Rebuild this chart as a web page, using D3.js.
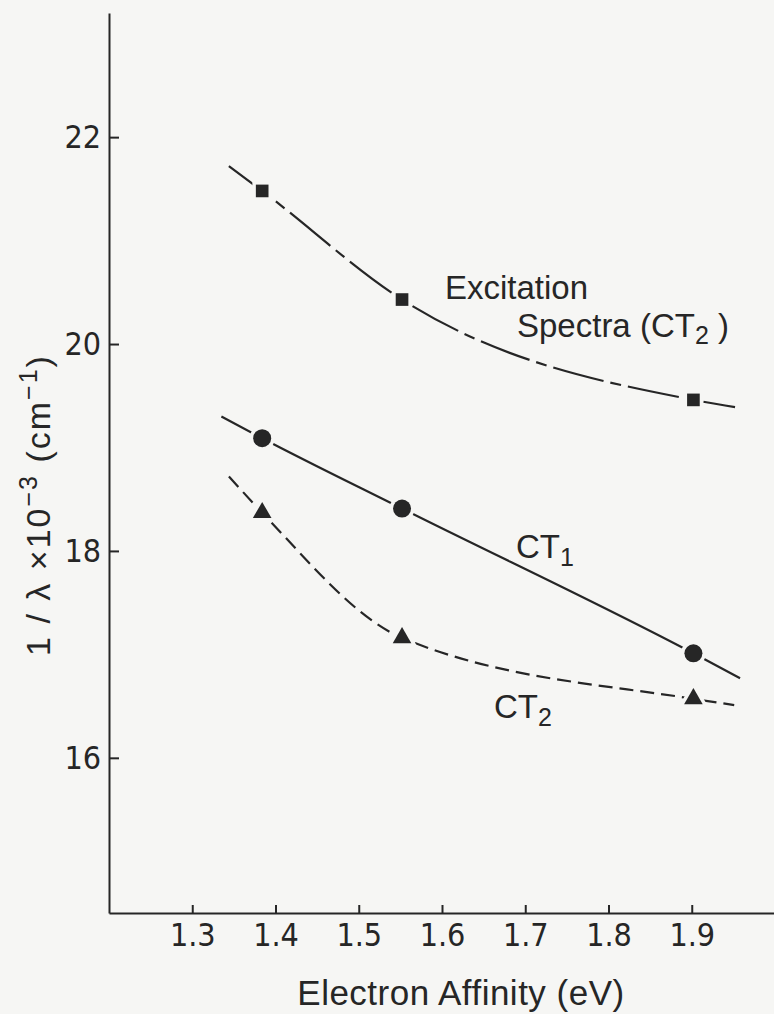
<!DOCTYPE html>
<html>
<head>
<meta charset="utf-8">
<script src="https://cdn.jsdelivr.net/npm/d3@7"></script>
<style>
  html, body { margin: 0; padding: 0; background: #f6f6f4; }
  svg text { fill: #262626; font-family: "Liberation Sans", "DejaVu Sans", sans-serif; }
  .tick text { font-family: "Liberation Sans Narrow", "DejaVu Sans Condensed", "Liberation Sans", sans-serif; }
</style>
</head>
<body>
<script>
// electron affinity of the acceptors (eV)
const affinity = [1.384, 1.552, 1.902];
// 1/lambda x 10^-3 (cm^-1)
const excitation = [21.48, 20.43, 19.46];
const ct1 = [19.09, 18.41, 17.01];
const ct2 = [18.37, 17.16, 16.57];
// where the drawn fit curves start and stop
const excitationEnds = [[1.344, 21.72], [1.952, 19.39]];
const ct1Ends = [[1.335, 19.30], [1.958, 16.77]];
const ct2Ends = [[1.344, 18.72], [1.951, 16.51]];

const xTicks = [1.3, 1.4, 1.5, 1.6, 1.7, 1.8, 1.9];
const yTicks = [16, 18, 20, 22];

const w = 774;
const h = 1014;
const ink = "#262626";

const xScale = d3.scaleLinear().domain([1.2, 2.0]).range([109, 775]);
const yScale = d3.scaleLinear().domain([14.5, 23.2]).range([913, 13]);

const svg = d3.select("body")
   .append("svg")
   .attr("width", w)
   .attr("height", h);

// axes, ticks point inwards
const xAxis = d3.axisBottom(xScale)
   .tickValues(xTicks)
   .tickFormat(d3.format(".1f"))
   .tickSizeInner(-8)
   .tickSizeOuter(0)
   .tickPadding(10);

const yAxis = d3.axisLeft(yScale)
   .tickValues(yTicks)
   .tickSizeInner(-10)
   .tickSizeOuter(0)
   .tickPadding(8);

const gx = svg.append("g")
   .attr("transform", "translate(0," + yScale(14.5) + ")")
   .call(xAxis);

const gy = svg.append("g")
   .attr("transform", "translate(" + xScale(1.2) + ",0)")
   .call(yAxis);

[gx, gy].forEach(g => {
   g.selectAll("path, line").attr("stroke", ink).attr("stroke-width", 2);
   g.selectAll("text").attr("font-size", 32).attr("fill", ink);
});

// fit curves
function curve(values, ends) {
   let pts = [ends[0]];
   affinity.forEach((a, i) => pts.push([a, values[i]]));
   pts.push(ends[1]);
   return pts;
}

const line = d3.line()
   .x(d => xScale(d[0]))
   .y(d => yScale(d[1]))
   .curve(d3.curveMonotoneX);

const series = [
   {values: excitation, ends: excitationEnds, dash: "52,7,11,7", shape: "square"},
   {values: ct1, ends: ct1Ends, dash: null, shape: "circle"},
   {values: ct2, ends: ct2Ends, dash: "14,7", shape: "triangle"}
];

series.forEach(s => {
   svg.append("path")
      .datum(curve(s.values, s.ends))
      .attr("d", line)
      .attr("fill", "none")
      .attr("stroke", ink)
      .attr("stroke-width", 2.2)
      .attr("stroke-dasharray", s.dash);
});

const symbols = {
   square: d3.symbol().type(d3.symbolSquare).size(160),
   circle: d3.symbol().type(d3.symbolCircle).size(255),
   triangle: d3.symbol().type(d3.symbolTriangle).size(150)
};

series.forEach(s => {
   svg.selectAll(null)
      .data(s.values)
      .enter()
      .append("path")
      .attr("d", symbols[s.shape])
      .attr("transform", (d, i) => "translate(" + xScale(affinity[i]) + "," + yScale(d) + ")")
      .attr("fill", ink)
      .attr("stroke", "#f6f6f4")
      .attr("stroke-width", 7)
      .attr("paint-order", "stroke");
});

// curve labels
svg.append("text")
   .attr("x", 445).attr("y", 299)
   .attr("font-size", 33)
   .text("Excitation");

const spec = svg.append("text")
   .attr("x", 517).attr("y", 337)
   .attr("font-size", 33);
spec.append("tspan").text("Spectra (CT");
spec.append("tspan").attr("font-size", 25).attr("dy", 7).text("2");
spec.append("tspan").attr("dy", -7).text(" )");

const l1 = svg.append("text")
   .attr("x", 516).attr("y", 558)
   .attr("font-size", 33);
l1.append("tspan").text("CT");
l1.append("tspan").attr("font-size", 25).attr("dy", 8).text("1");

const l2 = svg.append("text")
   .attr("x", 494).attr("y", 718)
   .attr("font-size", 33);
l2.append("tspan").text("CT");
l2.append("tspan").attr("font-size", 25).attr("dy", 8).text("2");

// axis titles
svg.append("text")
   .attr("x", 461).attr("y", 1005)
   .attr("text-anchor", "middle")
   .attr("font-size", 35)
   .attr("letter-spacing", 0.5)
   .text("Electron Affinity (eV)");

const yl = svg.append("text")
   .attr("transform", "translate(50,505) rotate(-90)")
   .attr("text-anchor", "middle")
   .attr("font-size", 34)
   .attr("letter-spacing", 2);
yl.append("tspan").text("1 / λ ×10");
yl.append("tspan").attr("font-size", 25).attr("dy", -13).text("−3");
yl.append("tspan").attr("dy", 13).text("  (cm");
yl.append("tspan").attr("font-size", 25).attr("dy", -13).text("−1");
yl.append("tspan").attr("dy", 13).text(")");
</script>
</body>
</html>
